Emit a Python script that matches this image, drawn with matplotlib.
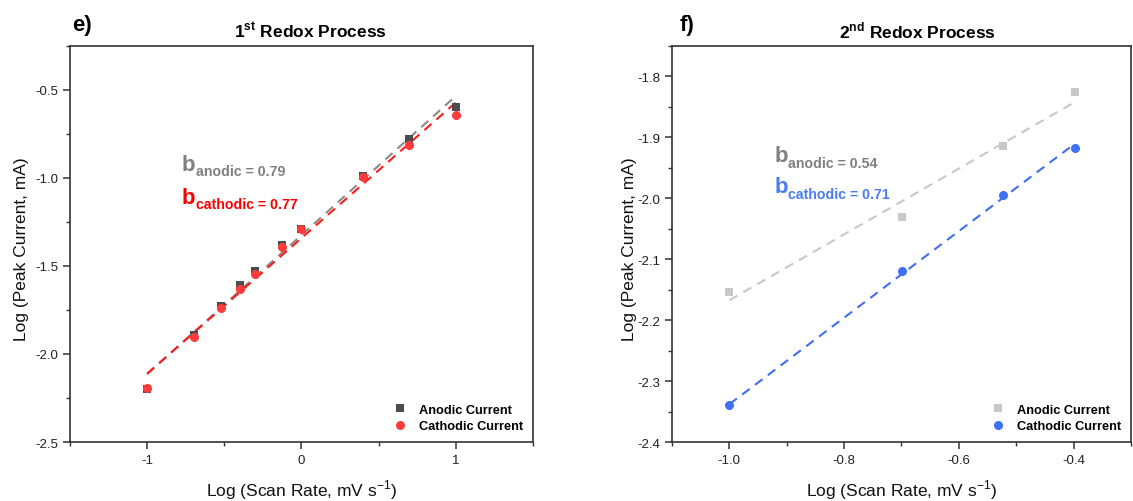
import numpy as np
import matplotlib
matplotlib.use("Agg")
import matplotlib.pyplot as plt
from matplotlib.ticker import MultipleLocator, FormatStrFormatter

plt.rcParams['font.family'] = ['Liberation Sans', 'DejaVu Sans']
plt.rcParams['mathtext.fontset'] = 'custom'
plt.rcParams['mathtext.rm'] = 'Liberation Sans'
plt.rcParams['mathtext.bf'] = 'Liberation Sans:bold'

# ---- 1st redox process ----
log_rate_1 = [-1.0, -0.699, -0.523, -0.398, -0.301, -0.125, 0.0, 0.398, 0.699, 1.0]
anodic_1 = [-2.20, -1.89, -1.73, -1.61, -1.53, -1.38, -1.29, -0.99, -0.78, -0.595]
cathodic_1 = [-2.195, -1.905, -1.74, -1.63, -1.545, -1.39, -1.29, -0.995, -0.81, -0.645]
b_anodic_1 = 0.79
b_cathodic_1 = 0.77

# ---- 2nd redox process ----
log_rate_2 = [-1.0, -0.699, -0.523, -0.398]
anodic_2 = [-2.153, -2.031, -1.915, -1.825]
cathodic_2 = [-2.34, -2.12, -1.995, -1.917]
b_anodic_2 = 0.54
b_cathodic_2 = 0.71

DASH = (0, (4.5, 3.2))


def fit_line(x, y, slope):
    """Line of given slope through the centroid of the points."""
    x = np.asarray(x, float)
    y = np.asarray(y, float)
    xs = np.array([x.min(), x.max()])
    return xs, y.mean() + slope * (xs - x.mean())


def b_label(ax, x, y, sub, color):
    t = ax.text(x, y, "b", color=color, fontsize=16, fontweight='bold',
                va='baseline', ha='left')
    ax.annotate(sub, xy=(1, 0), xycoords=t, xytext=(0.3, -0.3),
                textcoords='offset points', color=color, fontsize=10.2,
                fontweight='bold', va='baseline', ha='left')


def style_axes(ax, ylab_x):
    for s in ax.spines.values():
        s.set_linewidth(1.2)
        s.set_color('#333333')
    ax.tick_params(which='major', direction='out', length=5, width=1.1,
                   colors='#333333', labelsize=9.5, labelcolor='#222222')
    ax.tick_params(which='minor', direction='out', length=3, width=1.0,
                   colors='#333333')
    ax.set_ylabel("Log (Peak Current, mA)", fontsize=12.5, color='#111111')
    ax.yaxis.set_label_coords(ylab_x, 0.49)
    ax.set_xlabel(r"Log (Scan Rate, mV s$^{-1}$)", fontsize=12.5,
                  color='#111111', labelpad=8)


fig = plt.figure(figsize=(11.33, 5.02), dpi=100)
ax1 = fig.add_axes([0.0618, 0.1175, 0.4086, 0.789])
ax2 = fig.add_axes([0.5931, 0.1175, 0.4051, 0.789])

leg_kw = dict(loc='lower right', frameon=False,
              prop={'weight': 'bold', 'size': 9.2},
              handletextpad=1.1, labelspacing=0.35, borderaxespad=0.35,
              handlelength=0.8)

# panel e
red = '#ff3b3b'
xs, ys = fit_line(log_rate_1, anodic_1, b_anodic_1)
ax1.plot(xs, ys, ls=DASH, color='#8a8a8a', lw=1.5, zorder=2)
xs, ys = fit_line(log_rate_1, cathodic_1, b_cathodic_1)
ax1.plot(xs, ys, ls=DASH, color='#ff1a1a', lw=1.5, zorder=3)
ax1.plot(log_rate_1, anodic_1, 's', color='#4d4d4d', ms=6, mew=0,
         label='Anodic Current', zorder=4)
ax1.plot(log_rate_1, cathodic_1, 'o', color=red, ms=6.5, mew=0,
         label='Cathodic Current', zorder=5)
ax1.set_xlim(-1.5, 1.5)
ax1.set_ylim(-2.5, -0.25)
ax1.xaxis.set_major_locator(MultipleLocator(1))
ax1.xaxis.set_minor_locator(MultipleLocator(0.5))
ax1.yaxis.set_major_locator(MultipleLocator(0.5))
ax1.yaxis.set_minor_locator(MultipleLocator(0.25))
ax1.xaxis.set_major_formatter(FormatStrFormatter('%g'))
ax1.yaxis.set_major_formatter(FormatStrFormatter('%.1f'))
style_axes(ax1, -0.088)
ax1.set_title(r"1$^{\mathbf{st}}$ Redox Process", fontsize=12.5,
              fontweight='bold', x=0.52, pad=6)
b_label(ax1, -0.775, -0.955, "anodic = 0.79", '#808080')
b_label(ax1, -0.775, -1.14, "cathodic = 0.77", '#ff0000')
ax1.legend(**leg_kw)

# panel f
blue = '#3f6ff2'
xs, ys = fit_line(log_rate_2, anodic_2, b_anodic_2)
ax2.plot(xs, ys, ls=DASH, color='#c8c8c8', lw=1.5, zorder=2)
xs, ys = fit_line(log_rate_2, cathodic_2, b_cathodic_2)
ax2.plot(xs, ys, ls=DASH, color=blue, lw=1.5, zorder=3)
ax2.plot(log_rate_2, anodic_2, 's', color='#c8c8c8', ms=6, mew=0,
         label='Anodic Current', zorder=4)
ax2.plot(log_rate_2, cathodic_2, 'o', color=blue, ms=6.5, mew=0,
         label='Cathodic Current', zorder=5)
ax2.set_xlim(-1.1, -0.3)
ax2.set_ylim(-2.4, -1.75)
ax2.xaxis.set_major_locator(MultipleLocator(0.2))
ax2.xaxis.set_minor_locator(MultipleLocator(0.1))
ax2.yaxis.set_major_locator(MultipleLocator(0.1))
ax2.yaxis.set_minor_locator(MultipleLocator(0.05))
ax2.xaxis.set_major_formatter(FormatStrFormatter('%.1f'))
ax2.yaxis.set_major_formatter(FormatStrFormatter('%.1f'))
style_axes(ax2, -0.076)
ax2.set_title(r"2$^{\mathbf{nd}}$ Redox Process", fontsize=12.5,
              fontweight='bold', x=0.535, pad=6)
b_label(ax2, -0.922, -1.939, "anodic = 0.54", '#808080')
b_label(ax2, -0.922, -1.99, "cathodic = 0.71", '#4a7cf6')
ax2.legend(**leg_kw)

fig.text(72 / 1133, 1 - 26 / 502, "e)", fontsize=16, fontweight='bold',
         va='center', ha='left')
fig.text(680 / 1133, 1 - 26 / 502, "f)", fontsize=16, fontweight='bold',
         va='center', ha='left')

fig.savefig("out.png", dpi=100)
